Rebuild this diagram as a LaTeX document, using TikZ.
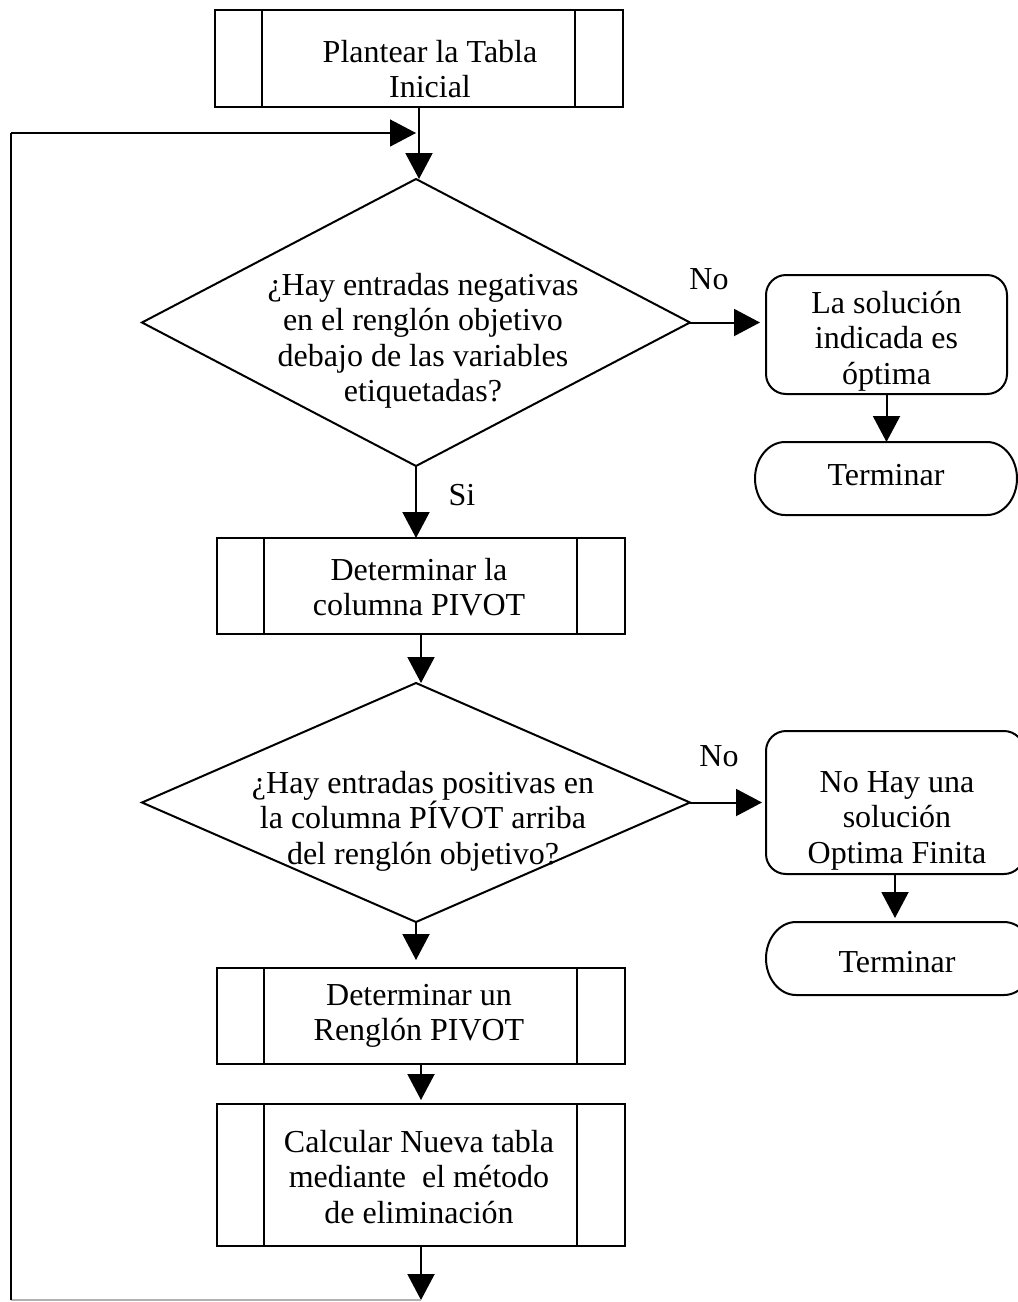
\documentclass[tikz,border=0pt]{standalone}
\usepackage{fontspec}
\setmainfont{Liberation Serif}
\usetikzlibrary{shapes.geometric,arrows.meta,calc}

\begin{document}
\begin{tikzpicture}[x=1pt,y=-1pt,
  line width=2pt,
  every node/.style={inner sep=0pt,outer sep=0pt},
  txt/.style={anchor=base,font=\fontsize{32}{35.5}\selectfont},
  procbox/.style={draw,rectangle,minimum width=408pt,minimum height=#1,
    path picture={
      \draw[line width=1.5pt] ([xshift=47pt]path picture bounding box.north west)
        -- ([xshift=47pt]path picture bounding box.south west);
      \draw[line width=1.5pt] ([xshift=-48pt]path picture bounding box.north east)
        -- ([xshift=-48pt]path picture bounding box.south east);}},
  decision/.style={draw,diamond,minimum width=548pt,minimum height=#1},
  outcome/.style={draw,rectangle,rounded corners=20pt},
  termbox/.style={rectangle,minimum height=73pt},
  conn/.style={-{Triangle[length=26pt,width=27pt]}},
  loopline/.style={line width=1.5pt},
]
\useasboundingbox (0,0) rectangle (1018,1302);

% ---- shapes ----
\node[procbox=97pt] (b1) at (419,58.5) {};
\node[decision=287pt] (d1) at (416,322.5) {};
\node[outcome,minimum width=241pt,minimum height=119pt] (r1) at (886.5,334.5) {};
\node[termbox,minimum width=262pt] (t1) at (886,478.5) {};
\node[procbox=96pt] (b2) at (421,586) {};
\node[decision=239pt] (d2) at (416,802.5) {};
\node[outcome,minimum width=258pt,minimum height=143pt] (r2) at (895,802.5) {};
\node[termbox,minimum width=268pt] (t2) at (900,958.5) {};
\node[procbox=96pt] (b4) at (421,1016) {};
\node[procbox=142pt] (b5) at (421,1175) {};

% terminator outlines with elliptic ends
\foreach \nm in {t1,t2}{
  \draw ($(\nm.north west)+(30,0)$) -- ($(\nm.north east)+(-30,0)$)
    .. controls +(16.5,0) and +(0,-20) .. (\nm.east)
    .. controls +(0,20) and +(16.5,0) .. ($(\nm.south east)+(-30,0)$)
    -- ($(\nm.south west)+(30,0)$)
    .. controls +(-16.5,0) and +(0,20) .. (\nm.west)
    .. controls +(0,-20) and +(-16.5,0) .. cycle;
}

% ---- texts ----
\node[txt] (b1t) at (430,62) {\parbox[t]{360pt}{\centering Plantear la Tabla\\Inicial}};
\node[txt] (d1t) at (423,295) {\parbox[t]{400pt}{\centering ¿Hay entradas negativas\\en el renglón objetivo\\debajo de las variables\\etiquetadas?}};
\node[txt] (r1t) at (886.5,313) {\parbox[t]{240pt}{\centering La solución\\indicada es\\óptima}};
\node[txt] (t1t) at (886,485) {Terminar};
\node[txt] (b2t) at (419,580) {\parbox[t]{360pt}{\centering Determinar la\\columna PIVOT}};
\node[txt] (d2t) at (423,793) {\parbox[t]{420pt}{\centering ¿Hay entradas positivas en\\la columna PÍVOT arriba\\del renglón objetivo?}};
\node[txt] (r2t) at (897,792) {\parbox[t]{260pt}{\centering No Hay una\\solución\\Optima Finita}};
\node[txt] (t2t) at (897,972) {Terminar};
\node[txt] (b4t) at (419,1005) {\parbox[t]{360pt}{\centering Determinar un\\Renglón PIVOT}};
\node[txt] (b5t) at (419,1152) {\parbox[t]{360pt}{\centering Calcular Nueva tabla\\mediante\ \ el método\\de eliminación}};

% branch labels
\node[txt] (no1) at (709,289) {No};
\node[txt] (no2) at (719,766) {No};
\node[txt] (si) at (462,505) {Si};

% ---- connectors ----
\draw[conn] (b1.south) -- (b1.south |- d1.north);
\draw[conn] (d1.south) -- (d1.south |- b2.north);
\draw[conn] (b2.south) -- (b2.south |- d2.north);
\draw[conn,shorten >=8pt] (d2.south) -- (d2.south |- b4.north);
\draw[conn,shorten >=4pt] (b4.south) -- (b4.south |- b5.north);
\draw[conn,shorten >=6pt] (d1.east) -- (d1.east -| r1.west);
\draw[conn,shorten >=4pt] (d2.east) -- (d2.east -| r2.west);
\draw[conn] (r1.south) -- (r1.south |- t1.north);
\draw[conn,shorten >=4pt] (r2.south) -- (r2.south |- t2.north);

% return loop
\coordinate (loopend) at (421,1300);
\coordinate (lc1) at (11,1300);
\coordinate (lc2) at (11,133);
\coordinate (loopin) at (416,133);
\draw[conn] (b5.south) -- (loopend);
\draw[loopline,gray!60] (loopend) -- (lc1);
\draw[loopline] (lc1) -- (lc2);
\draw[loopline,conn] (lc2) -- (loopin);
\end{tikzpicture}
\end{document}
